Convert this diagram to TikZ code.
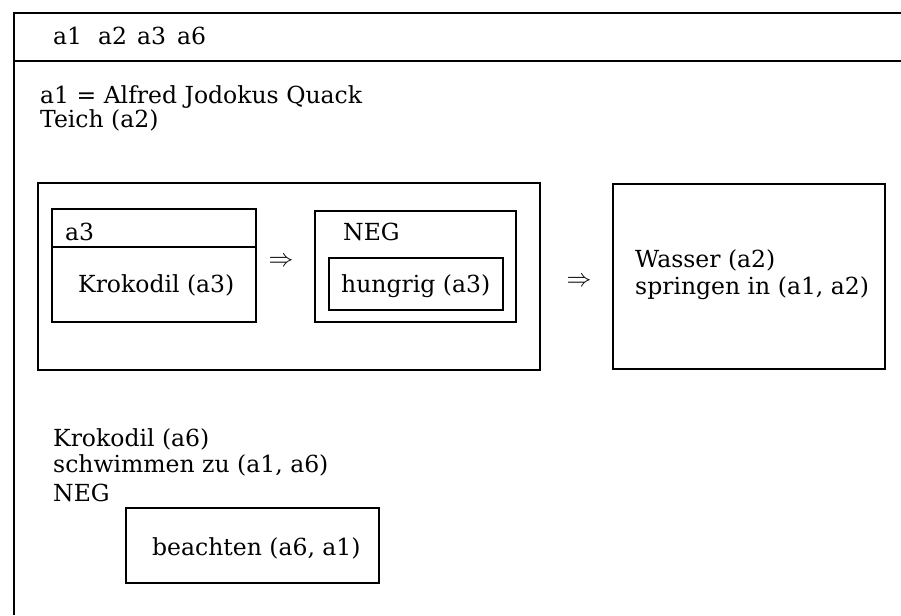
\documentclass[tikz,border=0pt]{standalone}
\usepackage{fontspec}
\setmainfont{DejaVu Serif}
\begin{document}
\begin{tikzpicture}[x=1pt,y=-1pt,
  txt/.style={anchor=base west,inner sep=0pt,font=\fontsize{23.5}{28}\selectfont},
  boxline/.style={line width=2.1pt},
  frameline/.style={line width=2.5pt},
  implies/.style={inner sep=0pt,font=\fontsize{24}{28}\selectfont}]
\useasboundingbox (0,0) rectangle (901,615);
% outer frame (open to the right and bottom)
\coordinate (ftr) at (901,13);
\coordinate (ftl) at (14,13);
\coordinate (fbl) at (14,615);
\coordinate (hl) at (14,61);
\coordinate (hr) at (901,61);
\draw[frameline] (ftr) -- (ftl) -- (fbl);
\draw[frameline] (hl) -- (hr);
% header
\node[txt] (h1) at (53,45) {a1};
\node[txt] (h2) at (98,45) {a2};
\node[txt] (h3) at (137,45) {a3};
\node[txt] (h6) at (177,45) {a6};
% conditions
\node[txt] (c1) at (40,103) {a1 = Alfred Jodokus Quack};
\node[txt] (c2) at (40,128) {Teich (a2)};
% big left box
\draw[boxline] (38,183) rectangle (540,370);
% a3 box
\draw[boxline] (52,209) rectangle (256,322);
\draw[boxline] (52,247) -- (256,247);
\node[txt] (a3) at (65,240) {a3};
\node[txt] (kro3) at (78,292) {Krokodil (a3)};
% implication 1
\node[implies] (imp1) at (281,262) {$\Rightarrow$};
% NEG box
\draw[boxline] (315,211) rectangle (516,322);
\node[txt] (neg1) at (343,240) {NEG};
\draw[boxline] (329,258) rectangle (503,310);
\node[txt] (hung) at (341,292) {hungrig (a3)};
% implication 2
\node[implies] (imp2) at (579,282) {$\Rightarrow$};
% right box
\draw[boxline] (613,184) rectangle (885,369);
\node[txt] (wass) at (635,267) {Wasser (a2)};
\node[txt] (spr) at (635,294) {springen in (a1, a2)};
% bottom
\node[txt] (kro6) at (53,446) {Krokodil (a6)};
\node[txt] (schw) at (53,472) {schwimmen zu (a1, a6)};
\node[txt] (neg2) at (53,501) {NEG};
\draw[boxline] (126,508) rectangle (379,583);
\node[txt] (beach) at (152,555) {beachten (a6, a1)};
\end{tikzpicture}
\end{document}
